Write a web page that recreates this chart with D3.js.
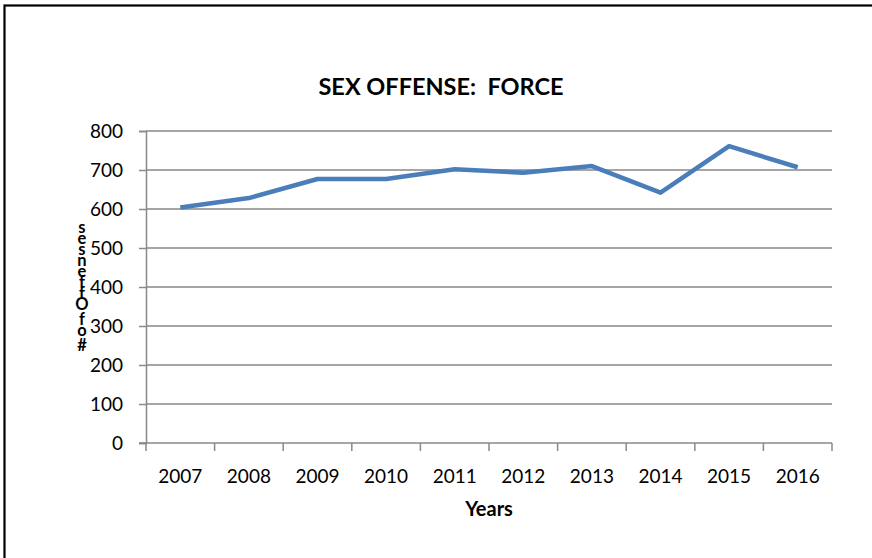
<!DOCTYPE html>
<html>
<head>
<meta charset="utf-8">
<script src="https://cdn.jsdelivr.net/npm/d3@7"></script>
<style>
  body { margin: 0; background: #fff; }
  svg { display: block; }
  text { font-family: Lato, "Open Sans", sans-serif; fill: #000; }
  .ylabel { writing-mode: vertical-rl; text-orientation: upright; }
</style>
</head>
<body>
<svg id="chart" width="872" height="558"></svg>
<script>
// values
const years = ['2007', '2008', '2009', '2010', '2011', '2012', '2013', '2014', '2015', '2016'];
const offenses = [604, 628, 677, 677, 702, 693, 710, 642, 761, 707];
const yTicks = [0, 100, 200, 300, 400, 500, 600, 700, 800];
const yLabelText = '# of Offenses'.split('').reverse().join('');

const svg = d3.select('#chart');
const W = 872, H = 558;
const plot = { left: 146, right: 832, top: 131, bottom: 443 };

svg.append('rect').attr('width', W).attr('height', H).attr('fill', '#fff');

// outer frame (only left and top edges are visible)
svg.append('rect')
  .attr('x', 4.5).attr('y', 5.5)
  .attr('width', W + 20).attr('height', H + 20)
  .attr('fill', 'none').attr('stroke', '#000').attr('stroke-width', 2.2);

const x = d3.scaleBand().domain(years).range([plot.left, plot.right]);
const y = d3.scaleLinear().domain([0, 800]).range([plot.bottom, plot.top]);

// gridlines
svg.append('g')
  .selectAll('line')
  .data(yTicks.filter(d => d > 0))
  .enter().append('line')
  .attr('x1', plot.left).attr('x2', plot.right)
  .attr('y1', d => y(d)).attr('y2', d => y(d))
  .attr('stroke', '#898989').attr('stroke-width', 1.5);

// y axis
const yAxis = svg.append('g')
  .attr('transform', `translate(${plot.left},0)`)
  .call(d3.axisLeft(y).tickValues(yTicks).tickSize(7).tickPadding(16));
yAxis.select('.domain').attr('stroke', '#898989').attr('stroke-width', 1.5);
yAxis.selectAll('.tick line').attr('stroke', '#898989').attr('stroke-width', 1.5);
yAxis.selectAll('text').attr('font-size', 19).attr('font-family', 'Lato, sans-serif').attr('fill', '#000');

// x axis: ticks sit between categories
const xAxis = svg.append('g')
  .attr('transform', `translate(0,${plot.bottom})`);
xAxis.append('line')
  .attr('x1', plot.left - 7).attr('x2', plot.right)
  .attr('stroke', '#898989').attr('stroke-width', 1.5);
const bounds = years.map(d => x(d)).concat([x(years[years.length - 1]) + x.bandwidth()]);
xAxis.selectAll('.xtick')
  .data(bounds)
  .enter().append('line')
  .attr('x1', d => d).attr('x2', d => d)
  .attr('y1', 0).attr('y2', 8)
  .attr('stroke', '#898989').attr('stroke-width', 1.5);
xAxis.selectAll('.xlab')
  .data(years)
  .enter().append('text')
  .attr('x', d => x(d) + x.bandwidth() / 2)
  .attr('y', 40)
  .attr('text-anchor', 'middle')
  .attr('font-size', 19)
  .text(d => d);

// line
const line = d3.line()
  .x((d, i) => x(years[i]) + x.bandwidth() / 2)
  .y(d => y(d));
svg.append('path')
  .datum(offenses)
  .attr('d', line)
  .attr('fill', 'none')
  .attr('stroke', '#4a7ebb')
  .attr('stroke-width', 4.5)
  .attr('stroke-linejoin', 'round');

// title
svg.append('text')
  .attr('x', 441).attr('y', 95)
  .attr('text-anchor', 'middle')
  .attr('font-size', 23.5).attr('font-weight', 'bold')
  .attr('xml:space', 'preserve')
  .text('SEX OFFENSE:  FORCE');

// x axis title
svg.append('text')
  .attr('x', 489).attr('y', 516)
  .attr('text-anchor', 'middle')
  .attr('font-size', 20).attr('font-weight', 'bold')
  .text('Years');

// y axis title: characters stacked top to bottom
svg.append('text')
  .attr('class', 'ylabel')
  .attr('x', 82).attr('y', 217)
  .attr('font-size', 16.5).attr('font-weight', 'bold')
  .attr('letter-spacing', -9)
  .attr('word-spacing', -7)
  .attr('xml:space', 'preserve')
  .text(yLabelText);
</script>
</body>
</html>
